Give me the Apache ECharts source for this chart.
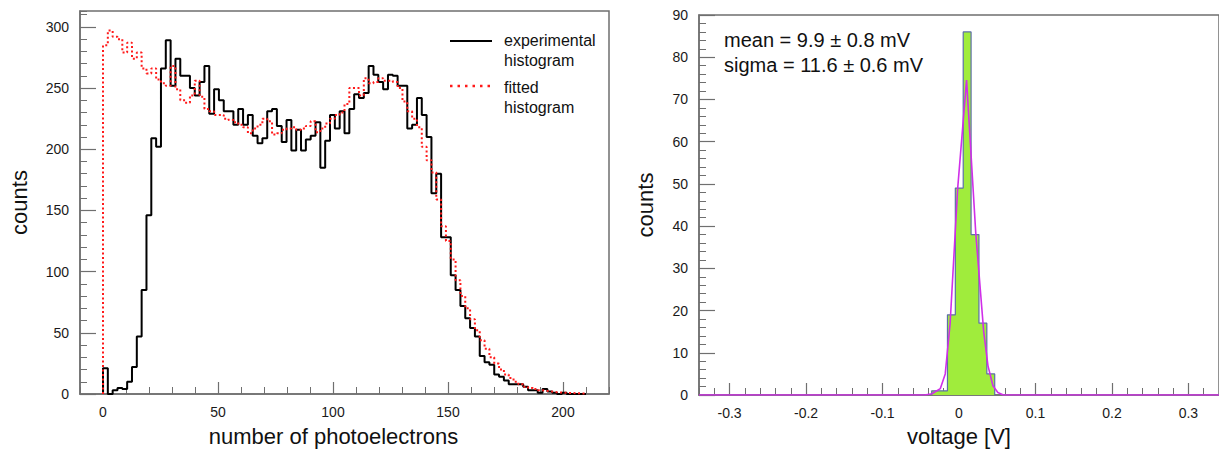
<!DOCTYPE html>
<html>
<head>
<meta charset="utf-8">
<script src="https://cdn.jsdelivr.net/npm/echarts@6/dist/echarts.min.js"></script>
<style>
  html, body { margin: 0; padding: 0; background: #fff; }
  #chart { width: 1219px; height: 452px; }
</style>
</head>
<body>
<div id="chart"></div>
<script>
// left panel: photoelectron spectrum, 100 bins of width 2.1 starting at 0
const peBinStart = 0
const peBinWidth = 2.1
const peExperimental = [
  21, 0, 3, 5, 4, 10, 22, 47, 85, 146,
  209, 202, 266, 289, 252, 274, 260, 260, 250, 244,
  255, 268, 229, 249, 240, 231, 231, 220, 233, 220,
  228, 211, 205, 209, 231, 233, 219, 206, 224, 199,
  216, 199, 208, 211, 222, 185, 207, 228, 217, 231,
  213, 233, 245, 242, 246, 268, 261, 255, 249, 261,
  260, 252, 252, 217, 220, 242, 228, 210, 164, 180,
  128, 128, 97, 85, 72, 62, 54, 47, 31, 26,
  24, 16, 14, 11, 8, 8, 8, 6, 3, 3,
  1, 4, 2, 1, 0, 1, 0, 0, 0, 0
]
const peFitted = [
  285, 297, 292, 290, 279, 287, 274, 279, 266, 262,
  266, 257, 254, 252, 268, 249, 240, 238, 244, 256,
  243, 233, 231, 228, 228, 225, 224, 222, 220, 218,
  213, 217, 220, 225, 223, 212, 213, 216, 217, 218,
  216, 217, 219, 223, 214, 217, 221, 225, 228, 230,
  237, 250, 250, 244, 258, 254, 255, 258, 256, 256,
  255, 250, 239, 231, 225, 218, 202, 191, 181, 159,
  137, 125, 110, 93, 80, 70, 61, 52, 44, 37,
  30, 25, 20, 16, 13, 10, 8, 6, 5, 4,
  3, 2.5, 2, 1.5, 1.2, 1, 0.8, 0.6, 0.5, 0.4
]
const peTicks = [0, 50, 100, 150, 200]
const peCountTicks = [0, 50, 100, 150, 200, 250, 300]

// right panel: pedestal voltage histogram and gaussian fit
const voltBinStart = -0.0357
const voltBinWidth = 0.0103
const voltCounts = [1, 1, 19, 49, 86, 38, 17, 5]
const voltFit = [
  [-0.34, 0], [-0.045, 0], [-0.0352, 0.3], [-0.0245, 1.5], [-0.018, 5],
  [-0.0116, 17], [-0.0017, 49], [0.0099, 74.6], [0.0219, 38.4], [0.0323, 15],
  [0.0379, 6.9], [0.0444, 2.2], [0.0508, 0.6], [0.058, 0], [0.34, 0]
]
const voltTicks = [-0.3, -0.2, -0.1, 0, 0.1, 0.2, 0.3]
const voltStats = ['mean = 9.9 ± 0.8 mV', 'sigma = 11.6 ± 0.6 mV']

const font = 'Liberation Sans'
const axisGray = '#6f6f6f'

// outline of a histogram as step points
function steps(start, width, counts) {
  let pts = [[start, 0]]
  counts.forEach((c, i) => {
    pts.push([start + i * width, c], [start + (i + 1) * width, c])
  })
  pts.push([start + counts.length * width, 0])
  return pts
}

function majorAxis(grid, min, max, ticks, extra) {
  return Object.assign({
    gridIndex: grid,
    type: 'value',
    min: min,
    max: max,
    axisLine: { show: true, onZero: false, lineStyle: { color: axisGray, width: 1.5 } },
    axisTick: { show: true, inside: true, length: 12, customValues: ticks, lineStyle: { color: axisGray, width: 1.2 } },
    axisLabel: { show: true, customValues: ticks, margin: 11, fontSize: 14, color: '#1a1a1a', fontFamily: font },
    splitLine: { show: false },
    nameTextStyle: { fontSize: 22, color: '#111', fontFamily: font }
  }, extra)
}

function minorAxis(grid, min, max, interval, position) {
  return {
    gridIndex: grid,
    type: 'value',
    min: min,
    max: max,
    interval: interval,
    position: position,
    axisLine: { show: false, onZero: false },
    axisTick: { show: true, inside: true, length: 7, lineStyle: { color: axisGray, width: 1 } },
    axisLabel: { show: false },
    splitLine: { show: false }
  }
}

var chart = echarts.init(document.getElementById('chart'), null, { renderer: 'svg' })
var option = {
  animation: false,
  textStyle: { fontFamily: font },
  grid: [
    { left: 80, top: 11, width: 529, height: 384, show: true, borderColor: axisGray, borderWidth: 1.5 },
    { left: 699, top: 15, right: -7, bottom: 56, show: true, borderColor: axisGray, borderWidth: 1.5 }
  ],
  xAxis: [
    majorAxis(0, -10, 220, peTicks, {
      position: 'bottom',
      name: 'number of photoelectrons', nameLocation: 'middle', nameGap: 31,
      nameTextStyle: { fontSize: 22, color: '#111', fontFamily: font, padding: [0, 22, 0, 0] }
    }),
    minorAxis(0, -10, 220, 10, 'bottom'),
    majorAxis(1, -0.34, 0.34, voltTicks, {
      position: 'bottom',
      name: 'voltage [V]', nameLocation: 'middle', nameGap: 30
    }),
    minorAxis(1, -0.34, 0.34, 0.02, 'bottom')
  ],
  yAxis: [
    majorAxis(0, 0, 313, peCountTicks, {
      position: 'left',
      axisTick: { show: true, inside: true, length: 16, customValues: peCountTicks, lineStyle: { color: axisGray, width: 1.2 } },
      name: 'counts', nameLocation: 'middle', nameGap: 50
    }),
    minorAxis(0, 0, 313, 10, 'left'),
    majorAxis(1, 0, 90, null, {
      position: 'left',
      interval: 10,
      axisTick: { show: true, inside: true, length: 16, lineStyle: { color: axisGray, width: 1.2 } },
      axisLabel: { show: true, margin: 11, fontSize: 14, color: '#1a1a1a', fontFamily: font },
      name: 'counts', nameLocation: 'middle', nameGap: 43
    }),
    minorAxis(1, 0, 90, 2, 'left')
  ],
  series: [
    {
      name: 'experimental histogram',
      type: 'line',
      xAxisIndex: 0, yAxisIndex: 0,
      data: steps(peBinStart, peBinWidth, peExperimental),
      symbol: 'none',
      lineStyle: { color: '#000', width: 2 },
      z: 3
    },
    {
      name: 'fitted histogram',
      type: 'line',
      xAxisIndex: 0, yAxisIndex: 0,
      data: steps(peBinStart, peBinWidth, peFitted),
      symbol: 'none',
      lineStyle: { color: '#ff1a1a', width: 2, type: [2, 2.5] },
      z: 4
    },
    {
      name: 'voltage',
      type: 'line',
      xAxisIndex: 2, yAxisIndex: 2,
      data: steps(voltBinStart, voltBinWidth, voltCounts),
      symbol: 'none',
      lineStyle: { color: '#5d6ea8', width: 1.2 },
      areaStyle: { color: '#a0ec3c', opacity: 1 },
      z: 3
    },
    {
      name: 'gaussian fit',
      type: 'line',
      xAxisIndex: 2, yAxisIndex: 2,
      data: voltFit,
      symbol: 'none',
      lineStyle: { color: '#d02fe8', width: 1.6 },
      z: 4
    }
  ],
  graphic: [
    { type: 'line', shape: { x1: 450, y1: 41, x2: 492, y2: 41 }, style: { stroke: '#000', lineWidth: 2 } },
    { type: 'line', shape: { x1: 450, y1: 86, x2: 492, y2: 86 }, style: { stroke: '#ff1a1a', lineWidth: 2.5, lineDash: [2.5, 5] } },
    { type: 'text', x: 504, y: 40, style: { text: 'experimental', font: '16px "Liberation Sans"', fill: '#111', verticalAlign: 'middle' } },
    { type: 'text', x: 504, y: 60, style: { text: 'histogram', font: '16px "Liberation Sans"', fill: '#111', verticalAlign: 'middle' } },
    { type: 'text', x: 504, y: 87, style: { text: 'fitted', font: '16px "Liberation Sans"', fill: '#111', verticalAlign: 'middle' } },
    { type: 'text', x: 504, y: 107, style: { text: 'histogram', font: '16px "Liberation Sans"', fill: '#111', verticalAlign: 'middle' } },
    { type: 'text', x: 724, y: 40, style: { text: voltStats[0], font: '20px "Liberation Sans"', fill: '#111', verticalAlign: 'middle' } },
    { type: 'text', x: 724, y: 65, style: { text: voltStats[1], font: '20px "Liberation Sans"', fill: '#111', verticalAlign: 'middle' } }
  ]
}
chart.setOption(option)
</script>
</body>
</html>
